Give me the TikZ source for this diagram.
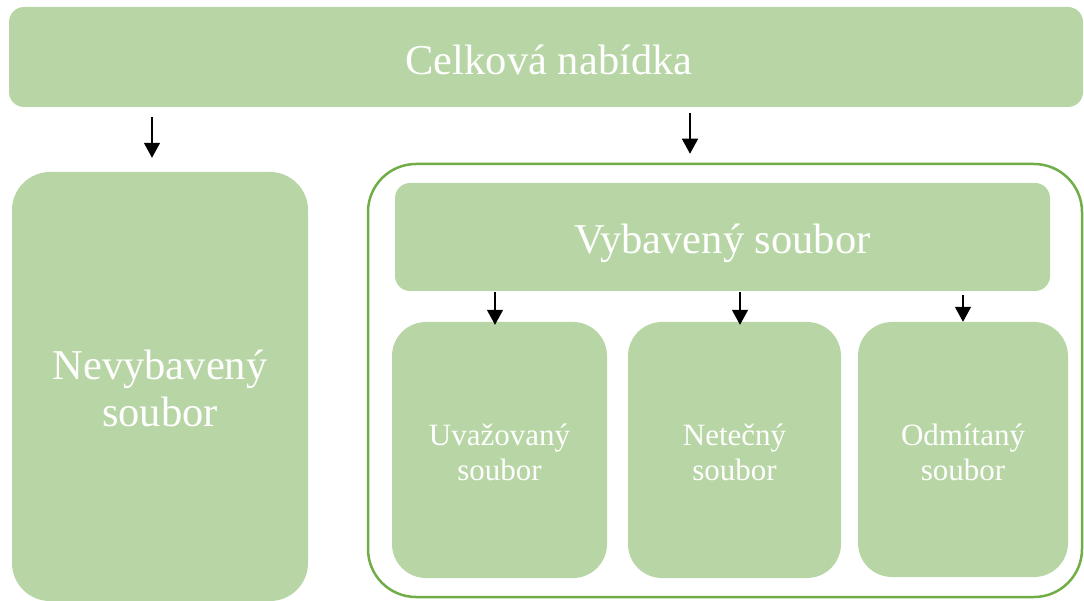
\documentclass[tikz,border=0pt]{standalone}
\usepackage{fontspec}
\setmainfont{Liberation Serif}
\usetikzlibrary{arrows.meta}
\definecolor{boxfill}{HTML}{B8D6A5}
\definecolor{framegreen}{HTML}{70AD47}
\begin{document}
\begin{tikzpicture}[x=1pt,y=-1pt,
  greenbox/.style={draw=none, fill=boxfill, inner sep=0pt, rectangle},
  boxtext/.style={text=white, inner sep=0pt, align=center},
  bigtext/.style={boxtext, font=\fontsize{42.5}{47}\selectfont},
  smalltext/.style={boxtext, font=\fontsize{31}{35}\selectfont},
  arr/.style={line width=1.4pt, -{Triangle[width=16pt,length=15pt]}}]
\useasboundingbox (0,0) rectangle (1084,601);

% top level
\node[greenbox, rounded corners=15pt, minimum width=1074pt, minimum height=100pt]
  (top) at (546,57) {};
\node[bigtext] (toplabel) at ([xshift=3pt,yshift=-3pt]top.center) {Celková nabídka};

% left column
\node[greenbox, rounded corners=38pt, minimum width=296pt, minimum height=429pt]
  (nev) at (160,386.5) {};
\node[bigtext] (nevlabel) at ([yshift=-1.5pt]nev.center) {Nevybavený\\soubor};

% right frame with its contents
\node[draw=framegreen, line width=2.5pt, fill=none, rounded corners=48pt, inner sep=0pt,
  minimum width=714pt, minimum height=433pt] (frame) at (725,380.5) {};

\node[greenbox, rounded corners=15pt, minimum width=655pt, minimum height=108pt]
  (vyb) at (722.5,237) {};
\node[bigtext] (vyblabel) at ([yshift=-6pt]vyb.center) {Vybavený soubor};

\node[greenbox, rounded corners=34pt, minimum width=215pt, minimum height=256pt]
  (uva) at (499.5,450) {};
\node[smalltext] (uvalabel) at ([yshift=-2pt]uva.center) {Uvažovaný\\soubor};
\node[greenbox, rounded corners=34pt, minimum width=213pt, minimum height=256pt]
  (net) at (734.5,450) {};
\node[smalltext] (netlabel) at ([yshift=-2pt]net.center) {Netečný\\soubor};
\node[greenbox, rounded corners=34pt, minimum width=210pt, minimum height=255pt]
  (odm) at (963,449.5) {};
\node[smalltext] (odmlabel) at ([yshift=-2.5pt]odm.center) {Odmítaný\\soubor};

% arrow columns
\coordinate (c1) at (152,0);
\coordinate (c2) at (690,0);
\coordinate (c3) at (495,0);
\coordinate (c4) at (740,0);
\coordinate (c5) at (963,0);

\draw[arr, shorten <=10pt, shorten >=14pt] (top.south -| c1) -- (nev.north -| c1);
\draw[arr, shorten <=6pt, shorten >=9pt] (top.south -| c2) -- (frame.north -| c2);
\draw[arr, shorten <=1pt, shorten >=-3pt] (vyb.south -| c3) -- (uva.north -| c3);
\draw[arr, shorten <=1pt, shorten >=-3pt] (vyb.south -| c4) -- (net.north -| c4);
\draw[arr, shorten <=4pt, shorten >=0pt] (vyb.south -| c5) -- (odm.north -| c5);
\end{tikzpicture}
\end{document}
